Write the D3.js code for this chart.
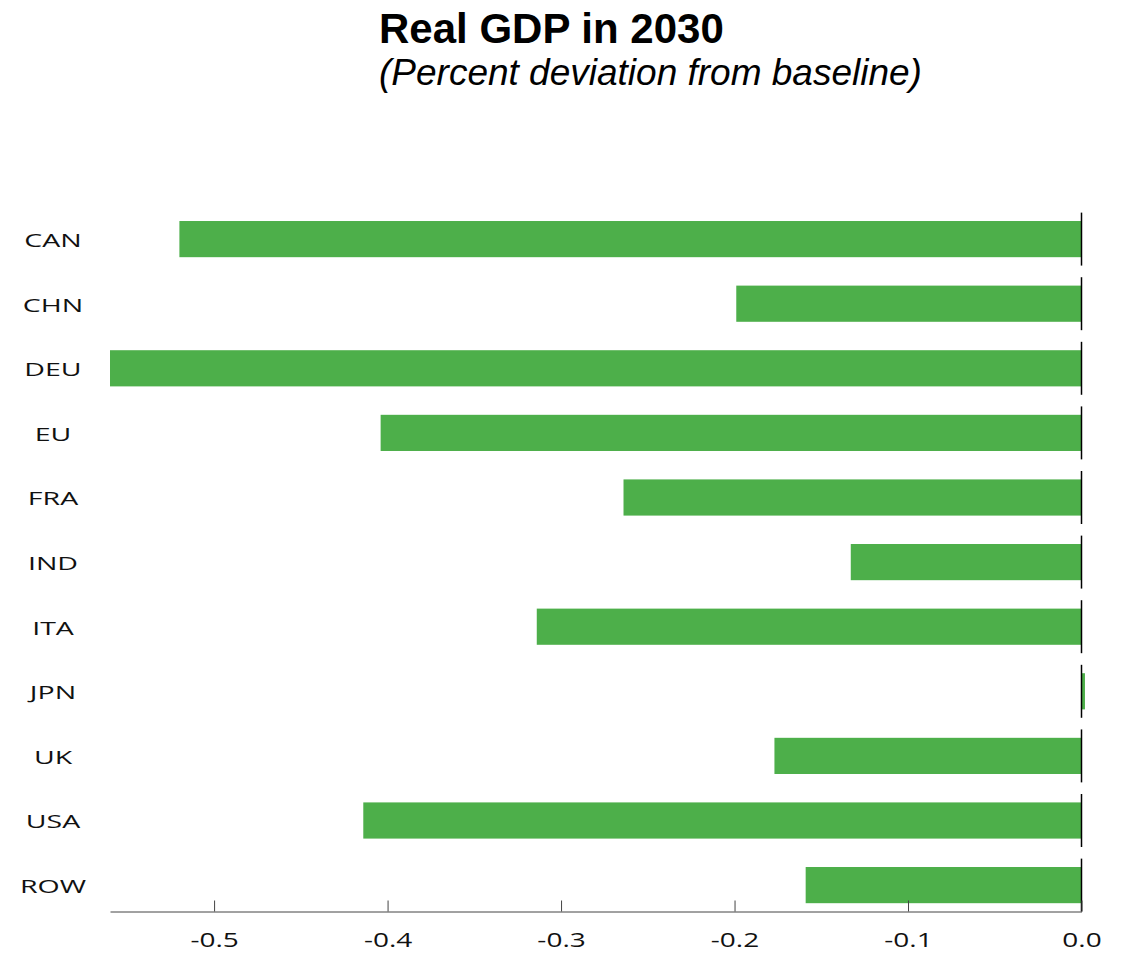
<!DOCTYPE html>
<html>
<head>
<meta charset="utf-8">
<script src="https://cdn.jsdelivr.net/npm/d3@7"></script>
<style>
  body { margin: 0; background: #fff; }
  svg { display: block; }
</style>
</head>
<body>
<div id="chart"></div>
<script>
// data
const regions = ["CAN", "CHN", "DEU", "EU", "FRA", "IND", "ITA", "JPN", "UK", "USA", "ROW"];
const gdpDeviation = [-0.520, -0.199, -0.560, -0.404, -0.264, -0.133, -0.314, 0.002, -0.177, -0.414, -0.159];
const xTicks = [-0.5, -0.4, -0.3, -0.2, -0.1, 0.0];

const WIDTH = 1122, HEIGHT = 953;
const BAR_COLOR = "#4daf4a";

const svg = d3.select("#chart").append("svg")
    .attr("width", WIDTH)
    .attr("height", HEIGHT);

// titles
svg.append("text")
    .attr("x", 379).attr("y", 43)
    .attr("font-family", "Liberation Sans, Arial, sans-serif")
    .attr("font-weight", "bold")
    .attr("font-size", 42)
    .attr("fill", "#000")
    .text("Real GDP in 2030");

svg.append("text")
    .attr("x", 379).attr("y", 85)
    .attr("font-family", "Liberation Sans, Arial, sans-serif")
    .attr("font-style", "italic")
    .attr("font-size", 37)
    .attr("fill", "#000")
    .text("(Percent deviation from baseline)");

// scales
const x = d3.scaleLinear()
    .domain([-0.56, 0])
    .range([110, 1081.5]);

const y = d3.scaleBand()
    .domain(regions)
    .range([206.8, 917.4])
    .paddingInner(0.44)
    .paddingOuter(0.22);

const rows = regions.map((r, i) => ({ region: r, value: gdpDeviation[i] }));

// bars
svg.append("g").selectAll("rect")
    .data(rows)
    .join("rect")
    .attr("x", d => x(Math.min(0, d.value)))
    .attr("y", d => y(d.region))
    .attr("width", d => Math.abs(x(d.value) - x(0)))
    .attr("height", y.bandwidth())
    .attr("fill", BAR_COLOR);

// zero reference, drawn per row
const ext = y.step() * 0.13;
svg.append("g").selectAll("line")
    .data(rows)
    .join("line")
    .attr("x1", x(0)).attr("x2", x(0))
    .attr("y1", d => y(d.region) - ext)
    .attr("y2", d => y(d.region) + y.bandwidth() + ext)
    .attr("stroke", "#000")
    .attr("stroke-width", 1.5);

// category labels
svg.append("g").selectAll("text")
    .data(rows)
    .join("text")
    .attr("transform", d => "translate(53," + (y(d.region) + y.bandwidth() / 2 + 1) + ") scale(1.5,1)")
    .attr("dy", "0.36em")
    .attr("text-anchor", "middle")
    .attr("font-family", "Open Sans, sans-serif")
    .attr("font-size", 19)
    .attr("fill", "#111")
    .text(d => d.region);

// x axis
const xAxis = svg.append("g")
    .attr("transform", "translate(0,911.5)")
    .call(d3.axisBottom(x)
        .tickValues(xTicks)
        .tickSizeInner(-11)
        .tickSizeOuter(0)
        .tickPadding(21)
        .tickFormat(d3.format(".1f")));

xAxis.select("path.domain").attr("stroke", "#444");
xAxis.selectAll(".tick line").attr("stroke", "#444");
xAxis.selectAll(".tick text")
    .attr("font-family", "Open Sans, sans-serif")
    .attr("font-size", 20)
    .attr("fill", "#111")
    .attr("transform", "scale(1.4,1)")
    .attr("x", 0)
    .text(d => d3.format(".1f")(d).replace("−", "-"));
</script>
</body>
</html>
